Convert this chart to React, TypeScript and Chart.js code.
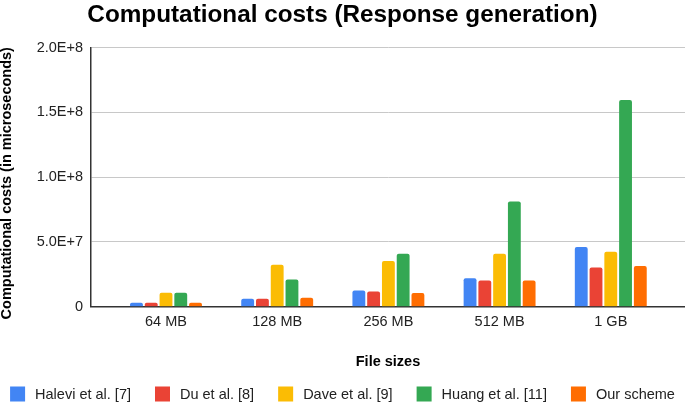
import { useEffect, useRef } from "react"
import { Chart, registerables } from "chart.js"

Chart.register(...registerables)

const categories = ["64 MB", "128 MB", "256 MB", "512 MB", "1 GB"]
const halevi = [3.1e6, 6.2e6, 1.26e7, 2.2e7, 4.61e7]
const du = [3.1e6, 6.2e6, 1.18e7, 2.03e7, 3.03e7]
const dave = [1.08e7, 3.24e7, 3.53e7, 4.09e7, 4.25e7]
const huang = [1.08e7, 2.1e7, 4.09e7, 8.13e7, 1.596e8]
const ours = [3.1e6, 6.9e6, 1.06e7, 2.03e7, 3.14e7]
const yTicks = [0, 5e7, 1e8, 1.5e8, 2e8]

const FAMILY = "'Liberation Sans', Arial, sans-serif"

// legend drawn by hand so the spacing matches the sheets export
const bottomLegend = {
  id: "bottomLegend",
  afterDraw(chart: Chart) {
    const { ctx } = chart
    const box = 15
    const gap = 10
    const spacing = 24
    ctx.save()
    ctx.font = `14.5px ${FAMILY}`
    ctx.textBaseline = "middle"
    const items = chart.data.datasets.map((ds) => ({
      text: ds.label as string,
      color: ds.backgroundColor as string,
      w: ctx.measureText(ds.label as string).width,
    }))
    const total =
      items.reduce((s, it) => s + box + gap + it.w, 0) + spacing * (items.length - 1)
    let x = (chart.width - total) / 2
    const y = chart.height - 8
    items.forEach((it) => {
      ctx.fillStyle = it.color
      ctx.fillRect(x, y - box / 2, box, box)
      ctx.fillStyle = "#222"
      ctx.fillText(it.text, x + box + gap, y + 0.5)
      x += box + gap + it.w + spacing
    })
    ctx.restore()
  },
}

export default function App() {
  const chartRef = useRef<HTMLCanvasElement>(null)

  useEffect(() => {
    if (!chartRef.current) return
    const ctx = chartRef.current.getContext("2d")
    if (!ctx) return

    Chart.defaults.font.family = FAMILY
    Chart.defaults.color = "#222"

    const xs = categories.map((_, i) => i + 1)
    const series = [
      { label: "Halevi et al. [7]", data: halevi, color: "#4285F4" },
      { label: "Du et al. [8]", data: du, color: "#EA4335" },
      { label: "Dave et al. [9]", data: dave, color: "#FBBC04" },
      { label: "Huang et al. [11]", data: huang, color: "#34A853" },
      { label: "Our scheme", data: ours, color: "#FF6D01" },
    ]

    const myChart = new Chart(ctx, {
      type: "bar",
      data: {
        labels: xs,
        datasets: series.map((s) => ({
          label: s.label,
          data: s.data,
          backgroundColor: s.color,
          borderRadius: 2,
          categoryPercentage: 0.664,
          barPercentage: 0.87,
        })),
      },
      options: {
        animation: false,
        responsive: true,
        maintainAspectRatio: false,
        layout: { padding: { bottom: 30 } },
        plugins: {
          legend: { display: false },
          tooltip: { enabled: false },
          title: {
            display: true,
            text: "Computational costs (Response generation)",
            color: "#000",
            font: { size: 24.3, weight: "bold", lineHeight: 1.2 },
            padding: { top: 1, bottom: 17.5 },
          },
        },
        scales: {
          x: {
            type: "linear",
            offset: false,
            min: 0.3255,
            max: 5.6675,
            afterFit: (scale) => {
              scale.height = 65.3
            },
            grid: { display: false, drawTicks: false },
            border: { display: true, color: "#333", width: 1.5 },
            ticks: {
              stepSize: 1,
              includeBounds: false,
              padding: 7,
              font: { size: 14.5 },
              color: "#222",
              callback: (v) => categories[Number(v) - 1] ?? "",
            },
            title: {
              display: true,
              text: "File sizes",
              color: "#000",
              font: { size: 14.5, weight: "bold", lineHeight: 1 },
              padding: { top: 0, bottom: 3 },
            },
          },
          y: {
            min: 0,
            max: 2e8,
            afterFit: (scale) => {
              scale.width = 91
            },
            afterBuildTicks: (scale) => {
              scale.ticks = yTicks.map((v) => ({ value: v }))
            },
            grid: {
              drawTicks: false,
              color: (c) => (c.tick && c.tick.value === 0 ? "rgba(0,0,0,0)" : "#c8c8c8"),
              lineWidth: 1,
            },
            border: { display: true, color: "#333", width: 1.5 },
            ticks: {
              padding: 8,
              font: { size: 14.5 },
              color: "#222",
              callback: (v) => (Number(v) === 0 ? "0" : Number(v).toExponential(1).toUpperCase()),
            },
            title: {
              display: true,
              // trailing spaces nudge the rotated title down a little, like the original
              text: "Computational costs (in microseconds)   ",
              color: "#000",
              font: { size: 14.5, weight: "bold", lineHeight: 1 },
              padding: { top: 0, bottom: 0 },
            },
          },
        },
      },
      plugins: [bottomLegend],
    })

    return () => {
      myChart.destroy()
    }
  }, [])

  return (
    <div style={{ position: "fixed", left: 0, top: 0, width: 685, height: 402, background: "#fff" }}>
      <canvas ref={chartRef} />
    </div>
  )
}
